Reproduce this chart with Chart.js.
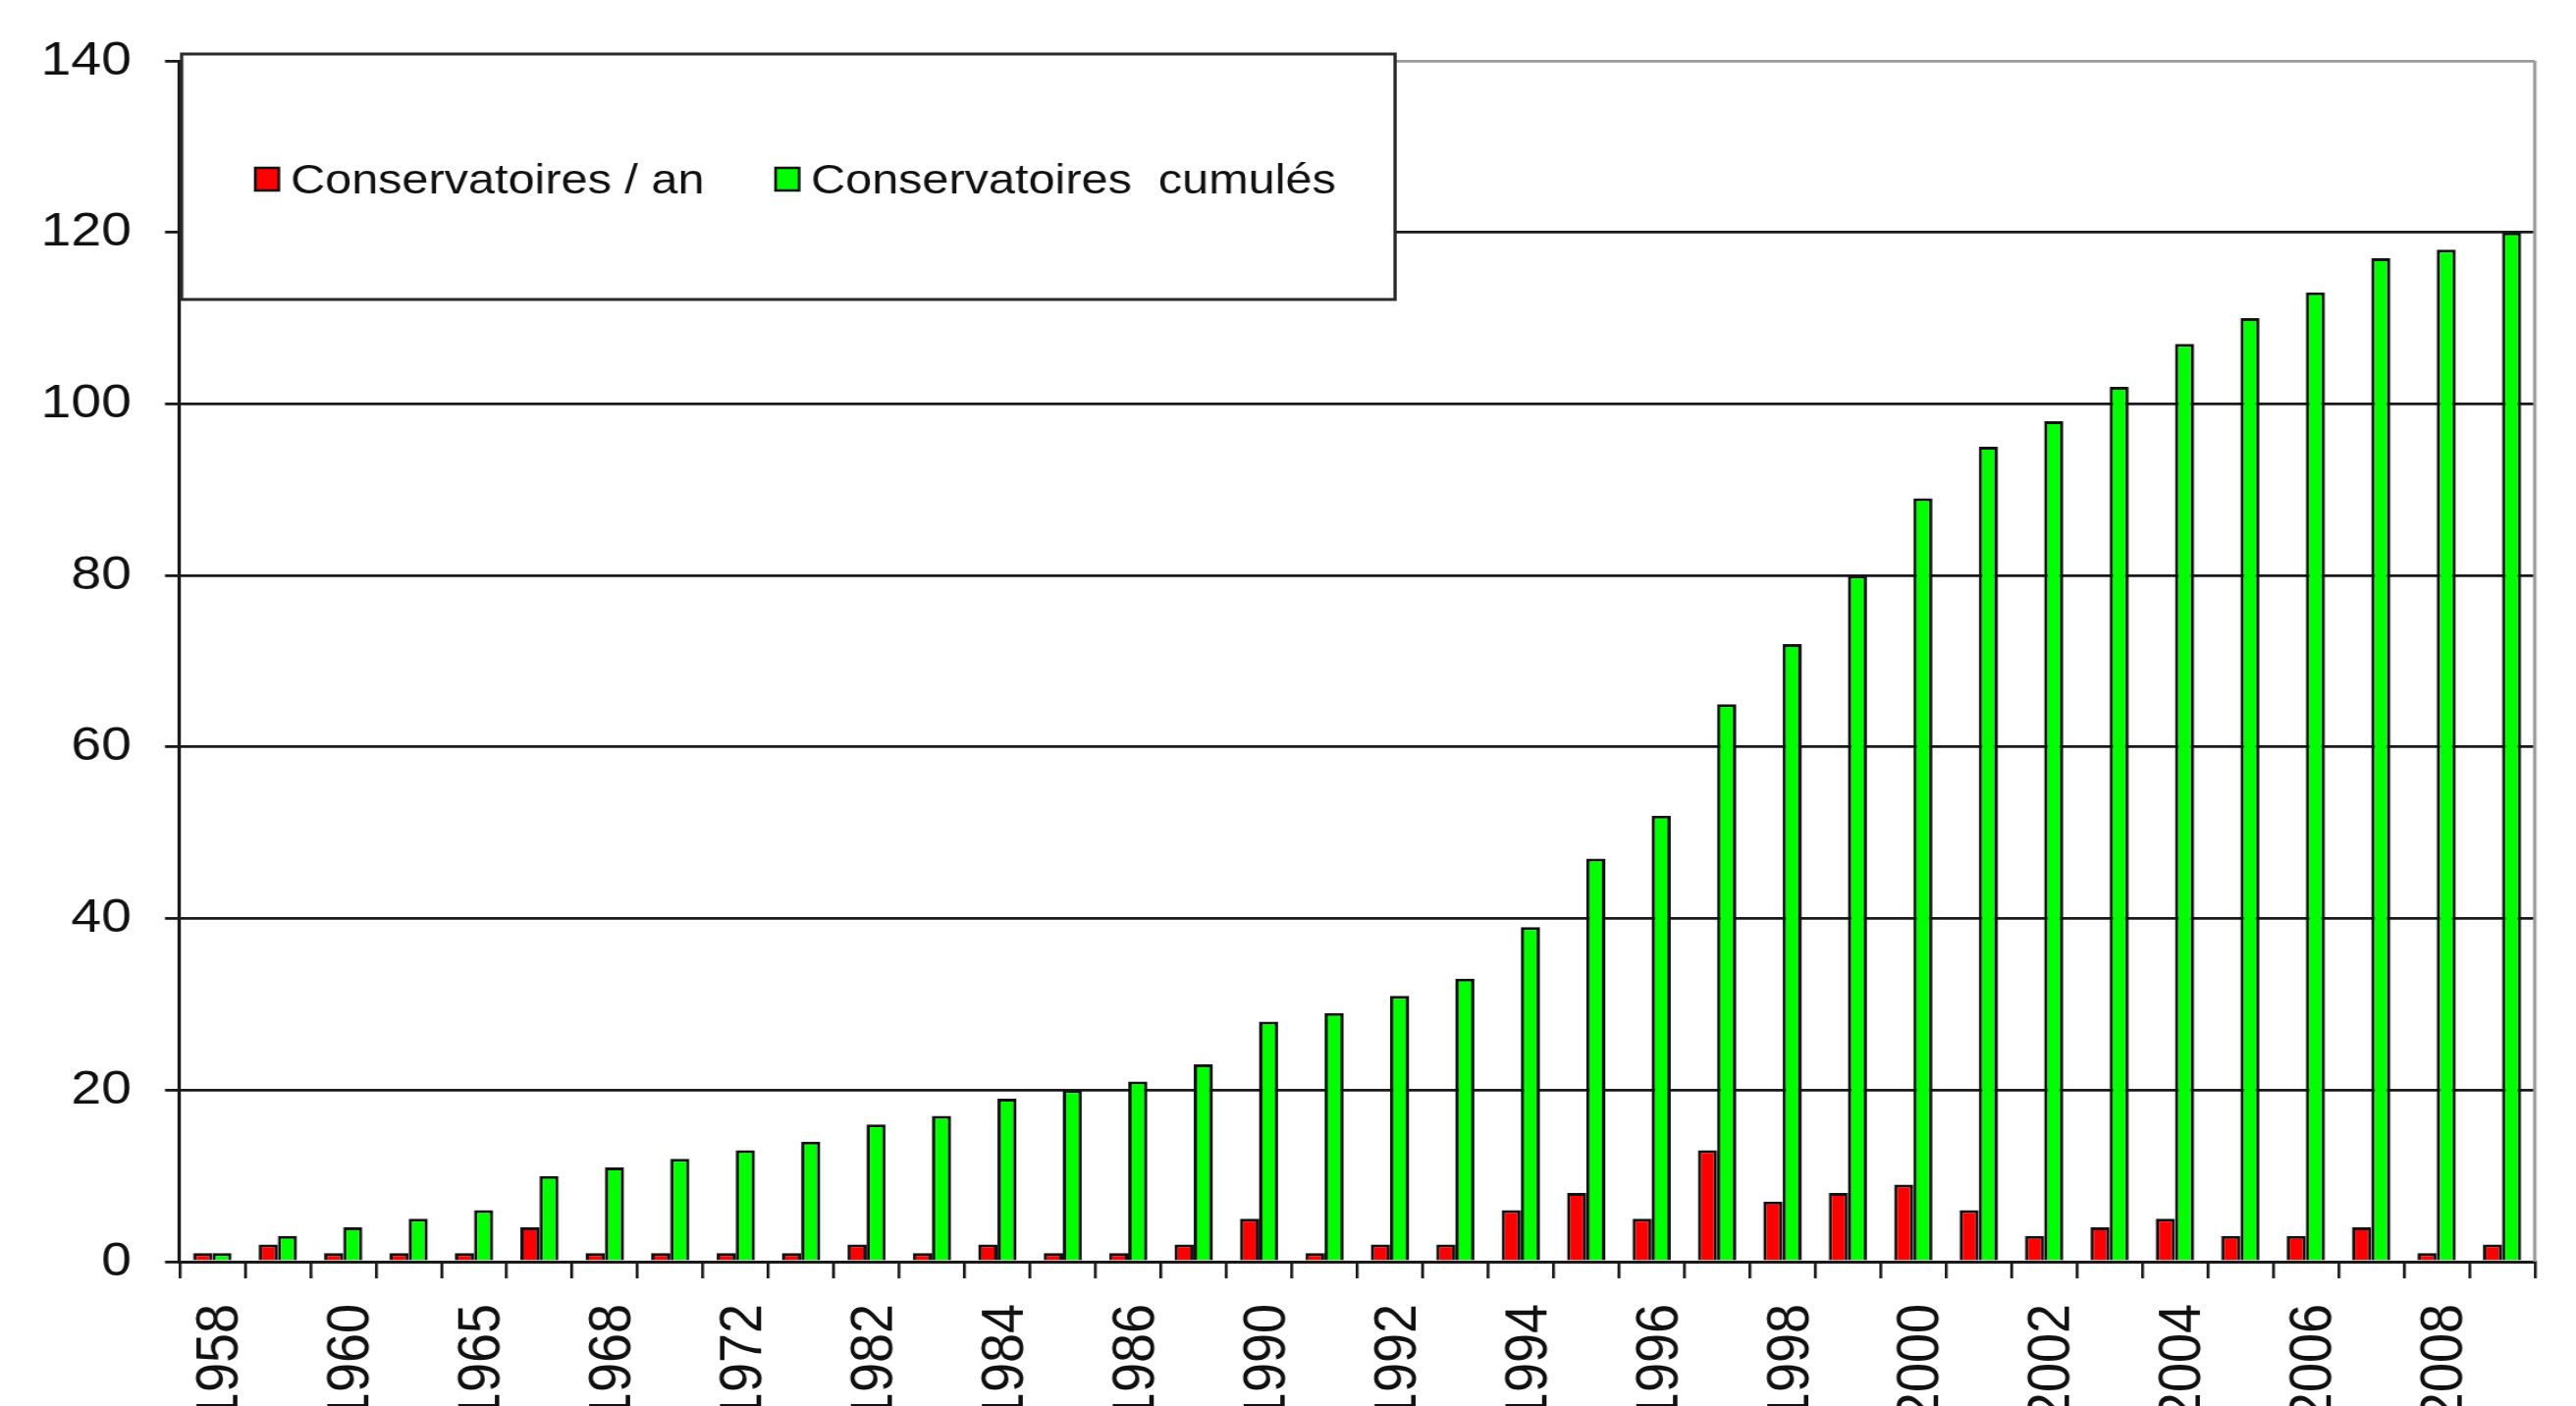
<!DOCTYPE html>
<html>
<head>
<meta charset="utf-8">
<script src="https://cdn.jsdelivr.net/npm/chart.js@4/dist/chart.umd.min.js"></script>
<style>
  html, body { margin: 0; padding: 0; background: #fff; overflow: hidden; }
  canvas { display: block; }
</style>
</head>
<body>
<canvas id="chart"></canvas>
<script>
// Years (only every second one is printed on the axis, as in the original)
const years = ['1958', '1959', '1960', '1962', '1965', '1967', '1968', '1970', '1972', '1978',
  '1982', '1983', '1984', '1985', '1986', '1988', '1990', '1991', '1992', '1993',
  '1994', '1995', '1996', '1997', '1998', '1999', '2000', '2001', '2002', '2003',
  '2004', '2005', '2006', '2007', '2008', '2009'];

const perYear = [1, 2, 1, 1, 1, 4, 1, 1, 1, 1, 2, 1, 2, 1, 1, 2, 5, 1, 2, 2,
  6, 8, 5, 13, 7, 8, 9, 6, 3, 4, 5, 3, 3, 4, 1, 2];

const cumulated = [1, 3, 4, 5, 6, 10, 11, 12, 13, 14, 16, 17, 19, 20, 21, 23, 28, 29, 31, 33,
  39, 47, 52, 65, 72, 80, 89, 95, 98, 102, 107, 110, 113, 117, 118, 120];

const yTicks = [0, 20, 40, 60, 80, 100, 120, 140];

const seriesNames = ['Conservatoires / an', 'Conservatoires  cumulés'];
const seriesColors = ['#ff0000', '#00ff00'];

const FONT = '"Liberation Sans", Arial, sans-serif';

// the original picture is a slightly widened Excel export: draw narrower, stretch with CSS
const W = 2624, H = 1432, SX = 1.13;
const canvas = document.getElementById('chart');
canvas.width = Math.round(W / SX);
canvas.height = H;
canvas.style.width = W + 'px';
canvas.style.height = H + 'px';
const px = v => v / SX; // horizontal screen px -> canvas px

// Excel-style legend box over the top-left of the plot, plus the grey right frame
const excelFrame = {
  id: 'excelFrame',
  afterDraw(chart) {
    const { ctx, chartArea: a } = chart;
    ctx.save();
    ctx.strokeStyle = '#9a9a9a';
    ctx.lineWidth = 3;
    ctx.beginPath();
    ctx.moveTo(a.right, a.top);
    ctx.lineTo(a.right, a.bottom);
    ctx.stroke();

    const bx = a.left + px(2), by = a.top - 7, bw = px(1236), bh = 250;
    ctx.fillStyle = '#fff';
    ctx.fillRect(bx, by, bw, bh);
    ctx.strokeStyle = '#2a2a2a';
    ctx.lineWidth = 3;
    ctx.strokeRect(bx, by, bw, bh);

    ctx.font = '43px ' + FONT;
    ctx.textBaseline = 'middle';
    const ty = by + 128;
    const items = [
      { x: bx + px(75), text: seriesNames[0], color: seriesColors[0] },
      { x: bx + px(605), text: seriesNames[1], color: seriesColors[1] }
    ];
    items.forEach(it => {
      ctx.fillStyle = it.color;
      ctx.fillRect(it.x, ty - 12, px(24), 23);
      ctx.strokeStyle = '#111';
      ctx.lineWidth = 2.5;
      ctx.strokeRect(it.x, ty - 12, px(24), 23);
      ctx.fillStyle = '#111';
      ctx.fillText(it.text, it.x + px(36), ty + 2);
    });
    ctx.restore();
  }
};

new Chart(canvas, {
  type: 'bar',
  data: {
    labels: years,
    datasets: [
      {
        label: seriesNames[0],
        data: perYear,
        backgroundColor: seriesColors[0],
        borderColor: '#111',
        borderWidth: 3,
        borderSkipped: 'bottom'
      },
      {
        label: seriesNames[1],
        data: cumulated,
        backgroundColor: seriesColors[1],
        borderColor: '#111',
        borderWidth: 3,
        borderSkipped: 'bottom'
      }
    ]
  },
  options: {
    responsive: false,
    animation: false,
    devicePixelRatio: 1,
    layout: { padding: { top: 62, right: px(42), left: 0, bottom: 0 } },
    datasets: {
      bar: { categoryPercentage: 0.585, barPercentage: 1.0 }
    },
    plugins: {
      legend: { display: false },
      tooltip: { enabled: false }
    },
    scales: {
      x: {
        offset: true,
        grid: {
          display: true,
          drawOnChartArea: false,
          offset: true,
          tickLength: 17,
          color: '#1a1a1a',
          lineWidth: 2.6
        },
        border: { display: true, color: '#1a1a1a', width: 3 },
        ticks: {
          autoSkip: false,
          minRotation: 90,
          maxRotation: 90,
          padding: 26,
          labelOffset: px(9),
          color: '#111',
          font: { family: FONT, size: 54 },
          callback: (v, i) => (i % 2 === 0 ? years[i] : '')
        },
        afterFit(scale) {
          scale.height = 147;
          // labels may run off the edges, as in the original
          scale.paddingLeft = 0;
          scale.paddingRight = 0;
        }
      },
      y: {
        min: 0,
        max: 140,
        afterBuildTicks(scale) { scale.ticks = yTicks.map(v => ({ value: v })); },
        grid: {
          tickLength: px(15),
          lineWidth: 2.8,
          color: ctx => (ctx.tick && ctx.tick.value === 140 ? '#9a9a9a' : '#1a1a1a'),
          tickColor: '#1a1a1a'
        },
        border: { display: true, color: '#1a1a1a', width: 3 },
        ticks: {
          padding: px(34),
          color: '#111',
          font: { family: FONT, size: 49 }
        },
        afterFit(scale) {
          scale.width = px(183);
          scale.paddingTop = 0;
          scale.paddingBottom = 0;
        }
      }
    }
  },
  plugins: [excelFrame]
});
</script>
</body>
</html>
